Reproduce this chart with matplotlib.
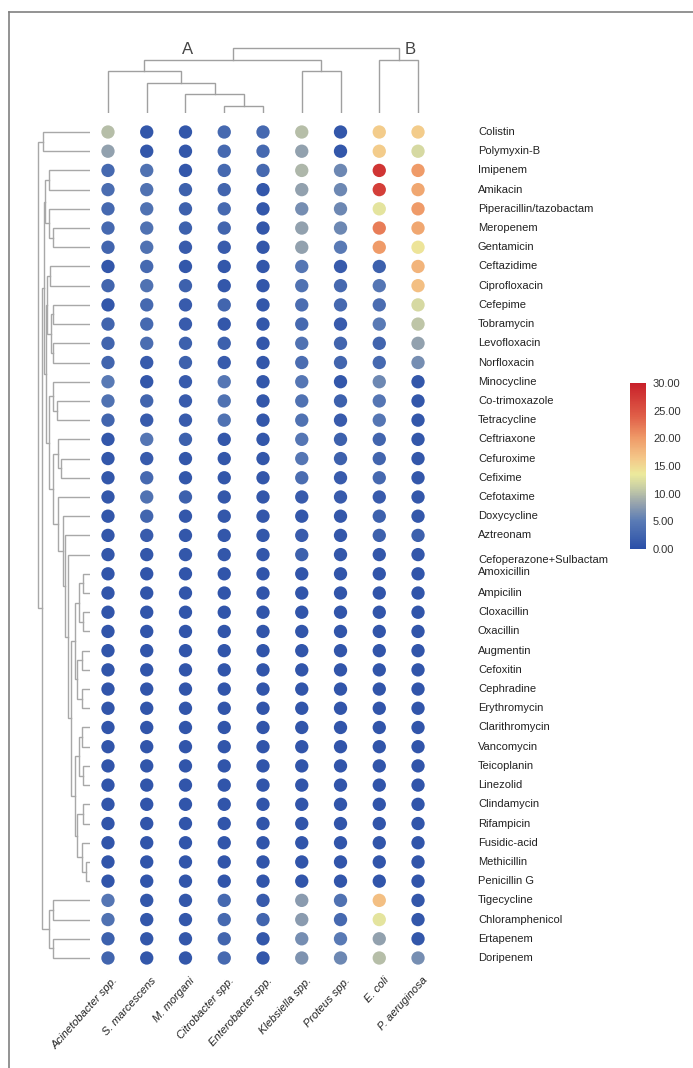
import numpy as np
import matplotlib.pyplot as plt
from matplotlib.colors import LinearSegmentedColormap
from matplotlib.lines import Line2D
from matplotlib.transforms import blended_transform_factory

plt.rcParams['font.family'] = ['Liberation Sans', 'DejaVu Sans']

# antibiotics (rows, top to bottom) and organisms (columns, left to right)
antibiotics = ['Colistin', 'Polymyxin-B', 'Imipenem', 'Amikacin', 'Piperacillin/tazobactam',
               'Meropenem', 'Gentamicin', 'Ceftazidime', 'Ciprofloxacin', 'Cefepime',
               'Tobramycin', 'Levofloxacin', 'Norfloxacin', 'Minocycline', 'Co-trimoxazole',
               'Tetracycline', 'Ceftriaxone', 'Cefuroxime', 'Cefixime', 'Cefotaxime',
               'Doxycycline', 'Aztreonam', 'Cefoperazone+Sulbactam', 'Amoxicillin', 'Ampicilin',
               'Cloxacillin', 'Oxacillin', 'Augmentin', 'Cefoxitin', 'Cephradine',
               'Erythromycin', 'Clarithromycin', 'Vancomycin', 'Teicoplanin', 'Linezolid',
               'Clindamycin', 'Rifampicin', 'Fusidic-acid', 'Methicillin', 'Penicillin G',
               'Tigecycline', 'Chloramphenicol', 'Ertapenem', 'Doripenem']
organisms = ['Acinetobacter spp.', 'S. marcescens', 'M. morgani', 'Citrobacter spp.',
             'Enterobacter spp.', 'Klebsiella spp.', 'Proteus spp.', 'E. coli', 'P. aeruginosa']

# values (0 - 30 scale)
acinetobacter = [10, 8, 3, 3.5, 3, 3, 2.5, 1, 2.5, 1, 2.5, 2.5, 2.5, 5, 4, 2.5, 1, 1, 1, 1, 1, 1, 1,
                 0.8, 0.8, 0.8, 0.8, 0.8, 0.8, 0.8, 0.8, 0.8, 0.8, 0.8, 0.8, 0.8, 0.8, 0.8, 0.8, 0.8,
                 4.5, 4, 2, 2.5]
s_marcescens = [1, 1, 4, 4, 4, 4, 4, 3, 4, 3, 3, 3.5, 1.5, 1, 2.5, 1.5, 4.5, 1.5, 3, 4, 2.5, 1.5, 1,
                0.8, 0.8, 0.8, 0.8, 0.8, 0.8, 0.8, 0.8, 0.8, 0.8, 0.8, 0.8, 0.8, 0.8, 0.8, 0.8, 0.8,
                1, 1, 1, 1]
m_morgani = [1, 1, 1, 2, 2, 2, 1.5, 1, 2, 1.5, 1.5, 2, 2, 1.5, 1.5, 1.5, 2, 1, 1, 2, 1, 1, 1,
             0.8, 0.8, 0.8, 0.8, 0.8, 0.8, 0.8, 0.8, 0.8, 0.8, 0.8, 0.8, 0.8, 0.8, 0.8, 0.8, 0.8,
             1, 1, 1, 1]
citrobacter = [3, 3, 3, 2.5, 3, 2.5, 1.5, 1, 1, 2.5, 1, 2, 1.5, 4.5, 4, 4, 1, 1, 1, 1, 1, 1, 1,
               0.8, 0.8, 0.8, 0.8, 0.8, 0.8, 0.8, 0.8, 0.8, 0.8, 0.8, 0.8, 0.8, 0.8, 0.8, 0.8, 0.8,
               3, 3, 2.5, 3]
enterobacter = [3, 3, 3, 1, 1, 1, 1, 1, 1, 1, 1, 1, 1, 1, 1, 1, 1, 1, 1, 1, 1, 1, 1,
                0.8, 0.8, 0.8, 0.8, 0.8, 0.8, 0.8, 0.8, 0.8, 0.8, 0.8, 0.8, 0.8, 0.8, 0.8, 0.8, 0.8,
                1.5, 2.5, 1, 1]
klebsiella = [10, 8, 9.5, 8, 6.5, 8, 8, 4.5, 4, 3.5, 3, 4, 3.5, 4.5, 4, 4, 4.5, 4.5, 3.5, 1.5, 1, 1.5, 2,
              0.8, 0.8, 0.8, 0.8, 0.8, 0.8, 0.8, 0.8, 0.8, 0.8, 0.8, 0.8, 0.8, 0.8, 0.8, 0.8, 0.8,
              7.5, 7.5, 6.5, 7]
proteus = [1, 1, 6, 6, 6, 6, 5, 1.5, 3, 3, 1.5, 2.5, 2.5, 1, 2, 1.5, 2, 2, 1.5, 1.5, 1, 1, 1,
           0.8, 0.8, 0.8, 0.8, 0.8, 0.8, 0.8, 0.8, 0.8, 0.8, 0.8, 0.8, 0.8, 0.8, 0.8, 0.8, 0.8,
           4, 3, 5, 6]
e_coli = [16, 16, 28, 27, 13, 22, 20, 2, 4.5, 3.5, 5, 2.5, 3, 6, 4.5, 4.5, 2.5, 2.5, 3, 1.5, 2, 2, 1,
          0.8, 0.8, 0.8, 0.8, 0.8, 0.8, 0.8, 0.8, 0.8, 0.8, 0.8, 0.8, 0.8, 0.8, 0.8, 0.8, 0.8,
          17, 13, 8, 10]
p_aeruginosa = [16, 12, 20, 19, 20, 19, 14, 18, 17, 12, 10.5, 8, 6.5, 1, 1, 1, 1, 1, 1, 1, 1, 2, 1,
                0.8, 0.8, 0.8, 0.8, 0.8, 0.8, 0.8, 0.8, 0.8, 0.8, 0.8, 0.8, 0.8, 0.8, 0.8, 0.8, 0.8,
                1, 1, 1, 6.5]
columns = [acinetobacter, s_marcescens, m_morgani, citrobacter, enterobacter,
           klebsiella, proteus, e_coli, p_aeruginosa]

# column clustering: (left, right, height); new clusters numbered from 9
col_links = [(3, 4, 7), (2, 9, 19), (1, 10, 30), (0, 11, 42), (5, 6, 42),
             (12, 13, 53), (7, 8, 53), (14, 15, 65)]
# row clustering: new clusters numbered from 44
row_links = [(0, 1, 47), (2, 3, 41), (5, 6, 37), (4, 46, 41), (45, 47, 45),
             (7, 8, 40), (9, 10, 37), (11, 12, 37), (50, 51, 39), (49, 52, 43),
             (14, 15, 33), (13, 54, 37), (17, 18, 29), (16, 56, 32),
             (23, 24, 7), (25, 26, 7), (58, 59, 11), (27, 28, 8), (29, 30, 8), (61, 62, 13),
             (60, 63, 15), (31, 32, 8), (33, 34, 7), (65, 66, 11), (35, 36, 7), (38, 39, 4),
             (37, 69, 8), (68, 70, 13), (67, 71, 15), (64, 72, 19),
             (22, 73, 22), (21, 74, 25), (20, 75, 27), (19, 76, 32), (57, 77, 37),
             (55, 78, 40.5), (53, 79, 44), (48, 80, 46),
             (40, 41, 37), (42, 43, 37), (82, 83, 41), (81, 84, 47.5), (44, 85, 52)]

W, H = 693, 1068
fig = plt.figure(figsize=(W / 100, H / 100), dpi=100)


def px_axes(x0, y0, x1, y1):
    return fig.add_axes([x0 / W, 1 - y1 / H, (x1 - x0) / W, (y1 - y0) / H])


def dendro_segments(links, n):
    pos = {i: float(i) for i in range(n)}
    hgt = {i: 0.0 for i in range(n)}
    segs = []
    for k, (a, b, h) in enumerate(links):
        segs.append(([pos[a], pos[a], pos[b], pos[b]], [hgt[a], h, h, hgt[b]]))
        pos[n + k] = (pos[a] + pos[b]) / 2
        hgt[n + k] = h
    return segs


cmap = LinearSegmentedColormap.from_list('resist', [
    (0.0, '#2a4fa8'), (0.167, '#5a7bb5'), (0.28, '#9aa6ad'), (0.37, '#c9cfa5'),
    (0.45, '#ecea9c'), (0.55, '#f4c688'), (0.67, '#ef9a68'), (0.8, '#e05f48'),
    (1.0, '#c8202a')])

n_rows = len(antibiotics)
rows = np.arange(n_rows)

# dot matrix
ax = px_axes(88.6, 122.4, 437.4, 967.6)
for j, vals in enumerate(columns):
    sc = ax.scatter(np.full(n_rows, j), rows, c=vals, cmap=cmap, vmin=0, vmax=30,
                    s=92, linewidths=0)
ax.set_xlim(-0.5, len(organisms) - 0.5)
ax.set_ylim(n_rows - 0.5, -0.5)
ax.axis('off')

# row labels on the right
label_shift = {'Cefoperazone+Sulbactam': 0.3, 'Amoxicillin': -0.1}
tr = blended_transform_factory(fig.transFigure, ax.transData)
for i, name in enumerate(antibiotics):
    ax.text(478 / W, i + label_shift.get(name, 0), name, transform=tr,
            ha='left', va='center', fontsize=8, color='#222222')

# column labels at the bottom
for j, name in enumerate(organisms):
    ax.text(j + 0.1, n_rows - 0.1, name, rotation=48, rotation_mode='anchor',
            ha='right', va='top', fontsize=8, style='italic', color='#222222',
            clip_on=False)

# top dendrogram
axt = px_axes(88.6, 43, 437.4, 113)
for xs, ys in dendro_segments(col_links, len(organisms)):
    axt.plot(xs, ys, color='#a0a0a0', lw=1.0, solid_joinstyle='miter')
axt.set_xlim(-0.5, len(organisms) - 0.5)
axt.set_ylim(0, 70)
axt.axis('off')
axt.text(2.06, 63, 'A', ha='center', va='center', fontsize=12, color='#444444')
axt.text(7.79, 63, 'B', ha='center', va='center', fontsize=12, color='#444444')

# left dendrogram
axl = px_axes(30, 122.4, 90, 967.6)
for ys, xs in dendro_segments(row_links, n_rows):
    axl.plot(xs, ys, color='#a8a8a8', lw=1.0, solid_joinstyle='miter')
axl.set_xlim(60, 0)
axl.set_ylim(n_rows - 0.5, -0.5)
axl.axis('off')

# colour bar
cax = px_axes(630, 383, 646, 549)
cbar = fig.colorbar(sc, cax=cax, ticks=[0, 5, 10, 15, 20, 25, 30], format='%.2f')
cbar.outline.set_visible(False)
cbar.ax.tick_params(length=0, pad=5, labelsize=8, labelcolor='#333333')

# frame lines (left and top)
fig.add_artist(Line2D([9 / W, 9 / W], [0, 1 - 12 / H], transform=fig.transFigure,
                      color='#808080', lw=1.2))
fig.add_artist(Line2D([9 / W, 1], [1 - 12 / H, 1 - 12 / H], transform=fig.transFigure,
                      color='#808080', lw=1.2))

fig.savefig('out.png', dpi=100, facecolor='white')
